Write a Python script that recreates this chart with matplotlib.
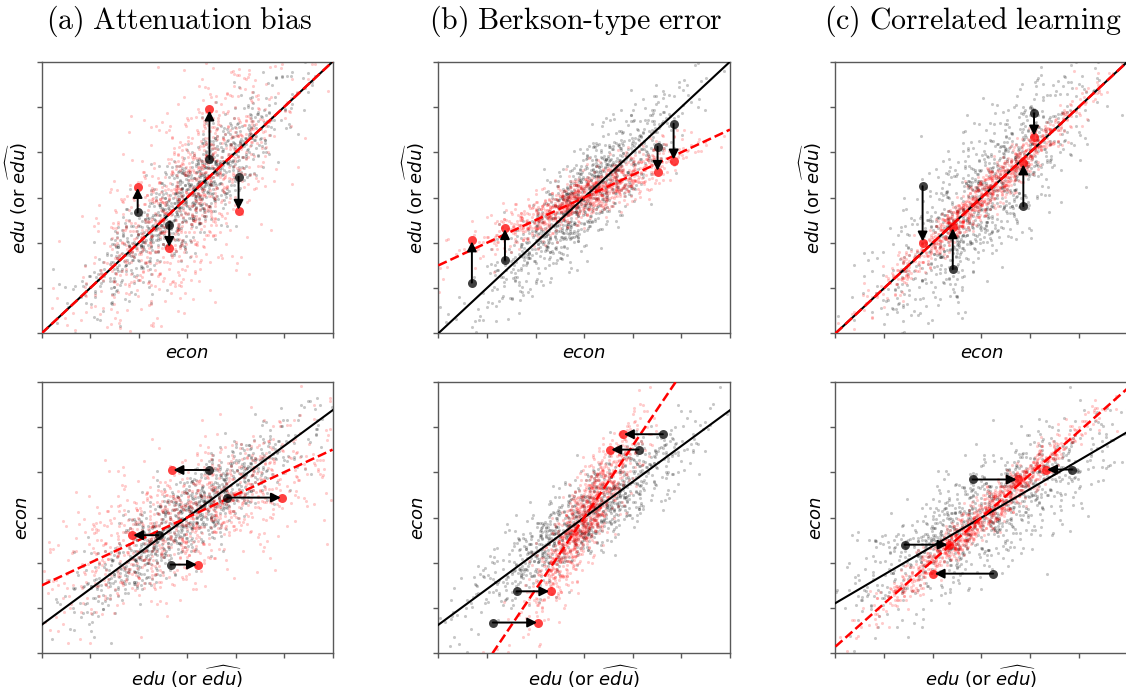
import numpy as np
import matplotlib
matplotlib.use("Agg")
import matplotlib.pyplot as plt

# ---- panel titles and axis labels ----
titles = [r"$\mathrm{(a)\ Attenuation\ bias}$",
          r"$\mathrm{(b)\ Berkson\text{-}type\ error}$",
          r"$\mathrm{(c)\ Correlated\ learning}$"]
edu_label = r"$edu$ (or $\widehat{edu}$)"
econ_label = "econ"
ticks = [-3, -2, -1, 0, 1, 2, 3]

# ---- simulated population behind each column ----
n_points = 1000
econ_sd = 1.0
edu_noise_sd = [0.52, 0.52, 0.77]        # edu = econ + noise
proxy_slope = [1.0, 0.5, 1.0]            # edu_hat drawn around proxy_slope * base
proxy_base = ["edu", "econ", "econ"]
proxy_noise_sd = [0.86, 0.25, 0.23]

# ---- fitted lines: (intercept, slope) ----
top_black_line = [(0.0, 1.0), (0.0, 1.0), (0.0, 1.0)]
top_red_line = [(0.0, 1.0), (0.0, 0.5), (0.0, 1.0)]
bot_black_line = [(0.0, 0.79), (0.0, 0.79), (0.0, 0.63)]
bot_red_line = [(0.0, 0.50), (0.0, 1.59), (0.0, 0.95)]

# ---- highlighted observations, top row (econ, edu -> edu_hat) ----
top_econ = [[-1.02, -0.37, 0.46, 1.06],
            [-2.31, -1.63, 1.51, 1.84],
            [-1.21, -0.59, 0.86, 1.08]]
top_edu = [[-0.33, -0.60, 0.85, 0.46],
           [-1.88, -1.38, 1.12, 1.63],
           [0.25, -1.58, -0.19, 1.86]]
top_edu_hat = [[0.24, -1.12, 1.95, -0.30],
               [-0.94, -0.67, 0.56, 0.81],
               [-1.00, -0.65, 0.76, 1.34]]

# ---- highlighted observations, bottom row (edu -> edu_hat, econ) ----
bot_edu = [[0.46, 0.83, -0.59, -0.34],
           [1.62, 1.12, -1.39, -1.88],
           [-0.18, 1.86, -1.58, 0.24]]
bot_edu_hat = [[-0.31, 1.96, -1.14, 0.23],
               [0.79, 0.53, -0.69, -0.94],
               [0.75, 1.32, -0.67, -0.99]]
bot_econ = [[1.05, 0.44, -0.39, -1.04],
            [1.84, 1.50, -1.63, -2.32],
            [0.84, 1.06, -0.60, -1.24]]

fig = plt.figure(figsize=(11.26, 6.94), dpi=100)

col_left = [0.0370, 0.3893, 0.7420]
col_width = [0.2584, 0.2590, 0.2593]
row_bottom = [0.5197, 0.0586]
row_height = 0.3914

rng = np.random.default_rng(11)


def style_axes(ax):
    ax.set_xlim(-3, 3)
    ax.set_ylim(-3, 3)
    ax.set_xticks(ticks)
    ax.set_yticks(ticks)
    ax.tick_params(direction="out", length=3.5, width=1, color="0.35",
                   labelleft=False, labelbottom=False)
    for sp in ax.spines.values():
        sp.set_color("0.35")
        sp.set_linewidth(1.0)


def draw_cloud(ax, xb, yb, xr, yr):
    ax.scatter(xb, yb, s=5, color="black", alpha=0.22, linewidths=0, zorder=1)
    ax.scatter(xr, yr, s=5, color="red", alpha=0.2, linewidths=0, zorder=2)


def draw_lines(ax, black, red):
    ax.axline((0, black[0]), slope=black[1], color="black", lw=1.5, zorder=3)
    ax.axline((0, red[0]), slope=red[1], color="red", lw=1.8, ls="--", zorder=4)


def draw_arrows(ax, x0, y0, x1, y1):
    ax.scatter(x0, y0, s=42, color="black", alpha=0.75, linewidths=0, zorder=5)
    ax.scatter(x1, y1, s=42, color="red", alpha=0.75, linewidths=0, zorder=5)
    for a, b, c, d in zip(x0, y0, x1, y1):
        ax.annotate("", xy=(c, d), xytext=(a, b),
                    arrowprops=dict(arrowstyle="-|>", color="black", lw=1.4,
                                    mutation_scale=14, shrinkA=0, shrinkB=1),
                    zorder=6)


for j in range(3):
    econ = rng.normal(0.0, econ_sd, n_points)
    edu = econ + rng.normal(0.0, edu_noise_sd[j], n_points)
    base = edu if proxy_base[j] == "edu" else econ
    edu_hat = proxy_slope[j] * base + rng.normal(0.0, proxy_noise_sd[j], n_points)

    # top row: education against economic outcome
    ax = fig.add_axes([col_left[j], row_bottom[0], col_width[j], row_height])
    style_axes(ax)
    draw_cloud(ax, econ, edu, econ, edu_hat)
    draw_lines(ax, top_black_line[j], top_red_line[j])
    draw_arrows(ax, top_econ[j], top_edu[j], top_econ[j], top_edu_hat[j])
    ax.set_xlabel(econ_label, fontsize=13, style="italic", labelpad=4)
    ax.set_ylabel(edu_label, fontsize=13, math_fontfamily="dejavusans", labelpad=5)
    ax.set_title(titles[j], fontsize=21.5, math_fontfamily="cm", pad=24, x=0.472)

    # bottom row: economic outcome against education
    ax = fig.add_axes([col_left[j], row_bottom[1], col_width[j], row_height])
    style_axes(ax)
    draw_cloud(ax, edu, econ, edu_hat, econ)
    draw_lines(ax, bot_black_line[j], bot_red_line[j])
    draw_arrows(ax, bot_edu[j], bot_econ[j], bot_edu_hat[j], bot_econ[j])
    ax.set_xlabel(edu_label, fontsize=13, math_fontfamily="dejavusans", labelpad=4)
    ax.set_ylabel(econ_label, fontsize=13, style="italic", labelpad=5)

fig.savefig("out.png", dpi=100)
